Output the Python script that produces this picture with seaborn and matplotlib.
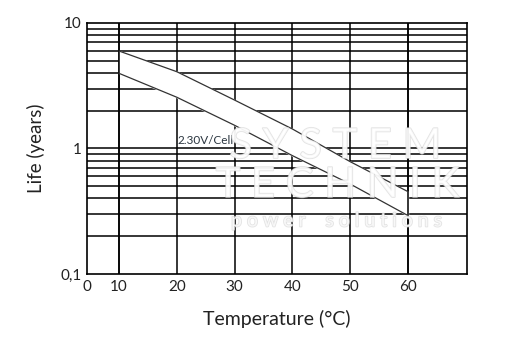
import numpy as np
import pandas as pd
import matplotlib
matplotlib.use("Agg")
import matplotlib.pyplot as plt
import matplotlib.patheffects as pe
from matplotlib.ticker import NullFormatter, FixedLocator
import seaborn as sns

# values
temperature = [10, 20, 30, 40, 50, 60]
life_upper = [5.98, 4.09, 2.43, 1.43, 0.785, 0.453]
life_lower = [3.97, 2.56, 1.53, 0.877, 0.521, 0.292]
x_tick_labels = ['0', '10', '20', '30', '40', '50', '60']
y_tick_labels = ['0,1', '1', '10']
curve_label = '2.30V/Cell'

df = pd.DataFrame({
    'temperature': temperature * 2,
    'life': life_upper + life_lower,
    'bound': ['upper'] * 6 + ['lower'] * 6,
})

sns.set_style("white")
plt.rcParams['font.family'] = ['Lato', 'DejaVu Sans']

fig = plt.figure(figsize=(5.10, 3.43), dpi=100)
ax = fig.add_axes([0.1706, 0.2012, 0.745, 0.7318])

x_left, x_right = 4.46, 70.2
ax.set_xlim(x_left, x_right)
ax.set_yscale('log')
ax.set_ylim(0.1, 10)

# grid: vertical lines at 10..60, horizontal at every log step
for xv in temperature:
    ax.axvline(xv, color='black', lw=1.1, zorder=1)
for dec in [0.1, 1]:
    for m in range(1, 10):
        yv = dec * m
        if 0.1 < yv < 10:
            ax.axhline(yv, color='black', lw=1.1, zorder=1)

ax.fill_between(temperature, life_lower, life_upper, color='white', zorder=2)
# keep the end grid lines visible through the band
ax.axvline(temperature[0], color='black', lw=1.1, zorder=2.5)
ax.axvline(temperature[-1], color='black', lw=1.1, zorder=2.5)
sns.lineplot(data=df, x='temperature', y='life', units='bound', estimator=None,
             color='#333333', lw=0.9, ax=ax, zorder=3)

ax.text(20.2, 1.15, curve_label, fontsize=8.5, color='#2b3640', zorder=4,
        va='center', ha='left')

# faint watermark
wm = dict(color='white', alpha=0.75, ha='center', va='center', zorder=4.5,
          path_effects=[pe.withStroke(linewidth=1.2, foreground='#dadada')])
fig.text(335 / 510, 1 - 146 / 343, 'S Y S T E M', fontsize=30, **wm)
fig.text(337 / 510, 1 - 185 / 343, 'T E C H N I K', fontsize=30, **wm)
fig.text(337 / 510, 1 - 221 / 343, 'p o w e r    s o l u t i o n s', fontsize=14, **wm)

ax.xaxis.set_major_locator(FixedLocator([x_left] + temperature))
ax.set_xticklabels(x_tick_labels)
ax.yaxis.set_major_locator(FixedLocator([0.1, 1, 10]))
ax.yaxis.set_minor_formatter(NullFormatter())
ax.set_yticklabels(y_tick_labels)
ax.tick_params(axis='both', which='both', length=0, labelsize=11, colors='#222222')
ax.tick_params(axis='x', pad=4)
ax.tick_params(axis='y', pad=4)

for s in ax.spines.values():
    s.set_color('black')
    s.set_linewidth(1.2)
    s.set_zorder(5)

ax.set_xlabel('Temperature (°C)', fontsize=14, color='#222222', labelpad=12)
ax.set_ylabel('Life (years)', fontsize=13.5, color='#222222', labelpad=11)

fig.savefig('out.png', dpi=100, facecolor='white')
